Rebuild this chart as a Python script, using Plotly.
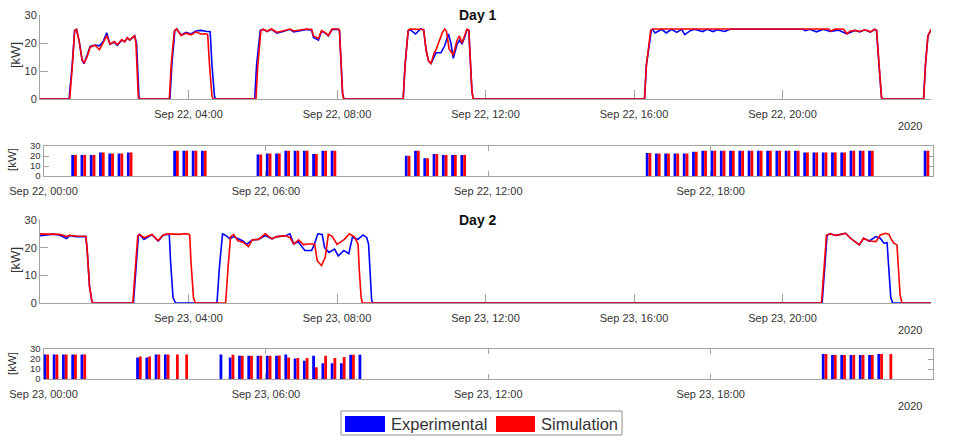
import pandas as pd
import plotly.graph_objects as go

DAY1 = "2020-09-22"
DAY2 = "2020-09-23"
DAY3 = "2020-09-24"

# ---- Day 1 power traces [kW] -------------------------------------------
d1_exp_t = ["00:00", "00:47", "00:52", "00:56", "00:59", "01:03", "01:08", "01:11", "01:16", "01:21", "01:29", "01:36", "01:42", "01:48", "01:53", "02:00", "02:05", "02:12", "02:17", "02:21", "02:25", "02:33", "02:36", "02:38", "02:40", "02:42",
            "03:30", "03:33", "03:38", "03:41", "03:48", "03:56", "04:04", "04:12", "04:20", "04:28", "04:35", "04:38", "04:42", "04:44",
            "05:47", "05:50", "05:56", "06:01", "06:07", "06:14", "06:23", "06:34", "06:44", "06:50", "07:01", "07:11", "07:19", "07:22", "07:30", "07:35", "07:41", "07:46", "07:52", "08:02", "08:04", "08:06", "08:09", "08:11",
            "09:47", "09:50", "09:55", "09:58", "10:07", "10:15", "10:20", "10:24", "10:28", "10:32", "10:37", "10:40", "10:48", "10:54", "11:00", "11:04", "11:08", "11:14", "11:18", "11:22", "11:27", "11:30", "11:33", "11:35", "11:38", "11:40",
            "16:17", "16:20", "16:28", "16:30", "16:34", "16:45", "16:52", "17:01", "17:09", "17:17", "17:22", "17:31", "17:38", "17:51", "17:58", "18:08", "18:14", "18:27", "18:35", "20:33", "20:37", "20:44", "20:55", "21:06", "21:17", "21:30", "21:44", "21:57", "22:05", "22:13", "22:22", "22:29", "22:32", "22:36", "22:40", "22:42",
            "23:48", "23:51", "23:55", "24:00"]
d1_exp_kw = [0, 0, 12, 24.5, 24.8, 21, 14, 12.6, 15.5, 18.8, 19.3, 19.0, 20.5, 23.6, 19.5, 20.3, 19.2, 21.0, 20.5, 21.8, 21.0, 22.6, 20.0, 8.0, 0.5, 0,
             0, 12, 24.5, 25.0, 22.9, 23.8, 23.2, 24.3, 24.5, 24.2, 24.0, 12.0, 1.0, 0,
             0, 12, 24.5, 24.9, 24.1, 24.9, 23.5, 24.2, 24.9, 24.0, 24.5, 24.8, 24.6, 22.0, 21.0, 24.2, 23.6, 22.5, 24.8, 24.9, 24.5, 14.0, 2.0, 0,
             0, 12, 24.3, 24.8, 23.2, 25.0, 24.7, 17.5, 13.5, 12.7, 15.5, 16.5, 16.5, 19.0, 23.2, 20.0, 14.5, 19.5, 21.0, 19.6, 22.5, 24.8, 24.5, 15.0, 3.0, 0,
             0, 12, 24.6, 24.9, 23.6, 24.9, 23.6, 24.9, 23.8, 24.9, 23.0, 24.4, 24.9, 24.1, 24.9, 24.1, 24.7, 24.1, 24.9, 24.9, 24.4, 24.9, 24.0, 24.9, 24.1, 24.6, 23.3, 24.5, 24.0, 24.7, 23.9, 24.9, 24.5, 12.0, 0.5, 0,
             0, 12, 22.5, 24.6]

d1_sim_t = ["00:00", "00:48", "00:52", "00:56", "00:59", "01:03", "01:08", "01:11", "01:16", "01:21", "01:29", "01:36", "01:42", "01:48", "01:53", "02:00", "02:05", "02:12", "02:17", "02:21", "02:25", "02:33", "02:35", "02:37", "02:39", "02:41",
            "03:29", "03:32", "03:37", "03:41", "03:48", "03:56", "04:04", "04:12", "04:20", "04:28", "04:31", "04:34", "04:38", "04:40",
            "05:49", "05:52", "05:57", "06:01", "06:07", "06:14", "06:23", "06:34", "06:44", "06:50", "07:01", "07:11", "07:19", "07:22", "07:30", "07:35", "07:41", "07:46", "07:52", "08:02", "08:04", "08:06", "08:09", "08:11",
            "09:47", "09:50", "09:55", "09:58", "10:07", "10:15", "10:20", "10:24", "10:28", "10:32", "10:37", "10:40", "10:45", "10:50", "10:54", "10:57", "11:01", "11:08", "11:14", "11:18", "11:22", "11:27", "11:30", "11:33", "11:35", "11:38", "11:40",
            "16:17", "16:20", "16:27", "16:30", "21:15", "21:18", "21:25", "21:39", "21:44", "21:50", "21:57", "22:05", "22:13", "22:22", "22:29", "22:32", "22:36", "22:40", "22:42",
            "23:48", "23:51", "23:55", "24:00"]
d1_sim_kw = [0, 0, 11, 24.4, 24.9, 21, 14, 12.8, 15, 18.5, 19.2, 17.6, 20, 22.7, 19.6, 20.5, 19.4, 21.2, 20.4, 21.9, 21.1, 22.6, 20, 8, 0.5, 0,
             0, 12, 24.3, 25, 22.7, 23.5, 22.9, 24.0, 23.2, 23.3, 23.0, 12, 1, 0,
             0, 12, 24.4, 24.9, 24.2, 25, 23.8, 24.4, 25, 24.3, 24.7, 25, 24.8, 22.5, 21.6, 24.4, 23.7, 22.7, 25, 25, 24.6, 14, 2, 0,
             0, 12, 24.5, 25, 25, 25, 24.8, 17.5, 13.5, 12.7, 16.5, 17.5, 20.5, 23.6, 25, 24.2, 18, 15.7, 21, 22.5, 20, 23.5, 24.9, 24.6, 15, 3, 0,
             0, 12, 24.6, 25, 25, 24.3, 25, 24.9, 23.3, 24.3, 24.5, 24.1, 24.7, 24.0, 24.9, 24.6, 12, 0.5, 0,
             0, 12, 22.5, 24.8]

# ---- Day 2 power traces [kW] -------------------------------------------
d2_exp_t = ["00:00", "00:10", "00:22", "00:32", "00:43", "00:48", "00:58", "01:14", "01:16", "01:20", "01:24", "01:26",
            "02:31", "02:35", "02:39", "02:41", "02:48", "03:01", "03:11", "03:19", "03:27", "03:29", "03:31", "03:35", "03:39",
            "04:46", "04:50", "04:55", "04:59", "05:07", "05:13", "05:28", "05:34", "05:43", "05:53", "06:04", "06:15", "06:23", "06:37", "06:44", "06:50", "06:57", "07:08", "07:19", "07:23", "07:29", "07:36", "07:40", "07:47", "07:56", "08:02", "08:11", "08:19", "08:25", "08:34", "08:42", "08:48", "08:51", "08:53", "08:56", "08:58",
            "21:04", "21:08", "21:12", "21:17", "21:26", "21:34", "21:42", "21:50", "22:04", "22:11", "22:20", "22:31", "22:38", "22:44", "22:49", "22:51", "22:55", "22:58", "24:00"]
d2_exp_kw = [24.3, 24.6, 24.9, 24.5, 23.3, 24.4, 24.0, 24.0, 20, 6, 0.5, 0,
             0, 12, 24.3, 24.8, 23.0, 24.7, 22.4, 24.5, 24.9, 24.5, 15, 2, 0,
             0, 13, 25, 24.6, 23.2, 24, 22.4, 21.2, 22.8, 23, 24.4, 23.2, 24, 24.3, 25, 21.3, 22.2, 19, 19, 21, 25, 24.8, 20, 18.3, 19.5, 17, 19, 17.8, 23.8, 23, 24.6, 23.7, 21.3, 12, 1, 0,
             0, 12, 24.5, 25, 24.4, 24.8, 25.2, 23.4, 21, 23.4, 22.4, 24, 23.4, 21.6, 21.8, 15, 2, 0, 0]

d2_sim_t = ["00:00", "00:10", "00:22", "00:32", "00:43", "00:48", "00:58", "01:14", "01:16", "01:20", "01:24", "01:26",
            "02:30", "02:34", "02:38", "02:41", "02:48", "03:01", "03:11", "03:19", "03:27", "03:46", "03:50", "03:59", "04:02", "04:04", "04:08", "04:11",
            "05:00", "05:04", "05:08", "05:13", "05:20", "05:28", "05:37", "05:43", "05:53", "06:04", "06:15", "06:23", "06:37", "06:44", "06:50", "06:58", "07:06", "07:12", "07:24", "07:28", "07:35", "07:41", "07:46", "07:52", "08:00", "08:12", "08:20", "08:28", "08:34", "08:36", "08:39", "08:41",
            "21:03", "21:07", "21:11", "21:17", "21:26", "21:34", "21:42", "21:50", "22:04", "22:11", "22:20", "22:31", "22:38", "22:47", "22:52", "22:56", "23:00", "23:05", "23:07", "23:10", "23:13", "24:00"]
d2_sim_kw = [25, 25, 25, 24.8, 24, 24.5, 24.2, 24.1, 20, 6, 0.5, 0,
             0, 12, 24.3, 24.8, 23.6, 24.8, 22.6, 24.6, 25, 24.8, 25, 25, 24.5, 15, 2, 0,
             0, 13, 24, 24.7, 22.5, 22, 20.4, 22.8, 23, 25, 23.2, 24, 24.3, 23.7, 21.3, 22.8, 21, 21.3, 21.3, 15.3, 13.5, 16.5, 24.8, 24.2, 21.2, 23, 25, 23.9, 21.3, 12, 2, 0,
             0, 12, 24.5, 25, 24.4, 24.8, 25.2, 23.4, 21, 23.4, 22.4, 22.2, 24.6, 25.2, 24.8, 23, 21.6, 21, 14, 3, 0, 0]

# ---- 15-minute averages [kW], interval start times ----------------------
d1_bar_t = ["00:45", "01:00", "01:15", "01:30", "01:45", "02:00", "02:15",
            "03:30", "03:45", "04:00", "04:15",
            "05:45", "06:00", "06:15", "06:30", "06:45", "07:00", "07:15", "07:30", "07:45",
            "09:45", "10:00", "10:15", "10:30", "10:45", "11:00", "11:15",
            "16:15", "16:30", "16:45", "17:00", "17:15", "17:30", "17:45", "18:00", "18:15", "18:30", "18:45", "19:00", "19:15",
            "19:30", "19:45", "20:00", "20:15", "20:30", "20:45", "21:00", "21:15", "21:30", "21:45", "22:00", "22:15",
            "23:45"]
d1_bar_exp = [20.9, 20.9, 20.9, 23.6, 22.6, 22.6, 23.6,
              25.2, 25.2, 25.2, 25.2,
              21.5, 22.6, 22.6, 25.2, 25.2, 25.2, 21.9, 25.2, 25.2,
              20.2, 25.2, 17.8, 21.9, 20.9, 20.9, 20.9,
              23.0, 22.6, 22.6, 22.6, 22.6, 24.2, 25.2, 25.2, 25.2, 25.2, 25.2, 25.2, 25.2,
              25.2, 25.2, 25.2, 25.2, 23.6, 23.6, 23.6, 23.6, 23.6, 25.2, 25.2, 25.2,
              25.2]
d1_bar_sim = [20.9, 20.9, 20.9, 23.6, 22.6, 22.6, 23.6,
              25.2, 25.2, 25.2, 25.2,
              21.5, 22.6, 22.6, 25.2, 25.2, 25.2, 21.9, 25.2, 25.2,
              20.2, 25.2, 17.8, 21.9, 20.9, 20.9, 20.9,
              23.0, 22.6, 22.6, 22.6, 22.6, 24.2, 25.2, 25.2, 25.2, 25.2, 25.2, 25.2, 25.2,
              25.2, 25.2, 25.2, 25.2, 23.6, 23.6, 23.6, 23.6, 23.6, 25.2, 25.2, 25.2,
              25.2]

d2_bar_t = ["00:00", "00:15", "00:30", "00:45", "01:00",
            "02:30", "02:45", "03:00", "03:15", "03:30", "03:45",
            "04:45", "05:00", "05:15", "05:30", "05:45", "06:00", "06:15", "06:30", "06:45", "07:00", "07:15", "07:30", "07:45", "08:00", "08:15", "08:30",
            "21:00", "21:15", "21:30", "21:45", "22:00", "22:15", "22:30", "22:45"]
d2_bar_exp = [24.5, 24.5, 24.5, 24.5, 24.5,
              21.5, 21.5, 24.5, 24.5, 0, 0,
              24.5, 21.5, 23.2, 23.2, 23.2, 23.2, 23.2, 24.6, 20.5, 18.2, 23.2, 15.8, 15.8, 15.8, 24.2, 24.2,
              24.9, 23.9, 23.9, 23.9, 23.9, 23.9, 24.9, 0]
d2_bar_sim = [24.5, 24.5, 24.5, 24.5, 24.5,
              22.6, 22.6, 24.5, 24.5, 24.5, 24.5,
              0, 24.2, 23.2, 23.2, 23.2, 23.2, 23.6, 21.5, 20.9, 20.9, 11.8, 23.2, 20.9, 21.9, 24.2, 0,
              24.9, 23.9, 23.9, 23.9, 23.9, 23.9, 24.9, 24.9]

line_ticks = ["04:00", "08:00", "12:00", "16:00", "20:00", "24:00"]
line_labels_d1 = ["Sep 22, 04:00", "Sep 22, 08:00", "Sep 22, 12:00", "Sep 22, 16:00", "Sep 22, 20:00", "Sep 23, 00:00"]
line_labels_d2 = ["Sep 23, 04:00", "Sep 23, 08:00", "Sep 23, 12:00", "Sep 23, 16:00", "Sep 23, 20:00", "Sep 24, 00:00"]
bar_ticks = ["00:00", "06:00", "12:00", "18:00"]
bar_labels_d1 = ["Sep 22, 00:00", "Sep 22, 06:00", "Sep 22, 12:00", "Sep 22, 18:00"]
bar_labels_d2 = ["Sep 23, 00:00", "Sep 23, 06:00", "Sep 23, 12:00", "Sep 23, 18:00"]
kw_ticks = [0, 10, 20, 30]

BLUE = "#0000ff"
RED = "#ff0000"
AXC = "#a3a3a3"
TXT = "#333333"
FONT = "Liberation Sans, Arial, sans-serif"
W, H = 965, 440
BAR_MS = 4.5 * 60 * 1000   # width of one bar (4.5 min)


def stamps(day, times):
    out = []
    for s in times:
        h, m = (int(v) for v in s.split(":"))
        out.append(pd.Timestamp(day) + pd.Timedelta(hours=h, minutes=m))
    return out


def px_x(px):
    return px / W


def px_y(py):
    return 1 - py / H


fig = go.Figure()


def add_lines(day, xa, ya, t_e, kw_e, t_s, kw_s):
    for t, kw, name, color in ((t_e, kw_e, "Experimental", BLUE), (t_s, kw_s, "Simulation", RED)):
        fig.add_trace(go.Scatter(x=stamps(day, t), y=kw, mode="lines", name=name,
                                 line=dict(color=color, width=1.6),
                                 xaxis=xa, yaxis=ya, showlegend=False))


def add_bars(day, xa, ya, t, kw_e, kw_s):
    x = stamps(day, t)
    fig.add_trace(go.Bar(x=x, y=kw_e, name="Experimental", marker=dict(color=BLUE, line=dict(width=0)),
                         width=BAR_MS, offset=0, xaxis=xa, yaxis=ya, showlegend=False))
    fig.add_trace(go.Bar(x=x, y=kw_s, name="Simulation", marker=dict(color=RED, line=dict(width=0)),
                         width=BAR_MS, offset=BAR_MS, xaxis=xa, yaxis=ya, showlegend=False))


add_lines(DAY1, "x", "y", d1_exp_t, d1_exp_kw, d1_sim_t, d1_sim_kw)
add_bars(DAY1, "x2", "y2", d1_bar_t, d1_bar_exp, d1_bar_sim)
add_lines(DAY2, "x3", "y3", d2_exp_t, d2_exp_kw, d2_sim_t, d2_sim_kw)
add_bars(DAY2, "x4", "y4", d2_bar_t, d2_bar_exp, d2_bar_sim)

tickfont = dict(family=FONT, size=11, color=TXT)
small_tickfont = dict(family=FONT, size=9.5, color=TXT)


def line_xaxis(day, nxt, anchor, labels):
    return dict(domain=[px_x(40), px_x(931)], anchor=anchor, type="date",
                range=[pd.Timestamp(day), pd.Timestamp(nxt)],
                tickmode="array", tickvals=stamps(day, line_ticks), ticktext=labels,
                ticks="inside", ticklen=9, tickcolor=AXC, showline=True, linecolor=AXC, linewidth=1,
                showgrid=False, zeroline=False, layer="below traces", tickfont=tickfont,
                ticklabelstandoff=5, automargin=False, fixedrange=True)


def line_yaxis(top, bot, anchor):
    return dict(domain=[px_y(bot), px_y(top)], anchor=anchor, range=[0, 30],
                tickmode="array", tickvals=kw_ticks, ticks="inside", ticklen=8, tickcolor=AXC,
                showline=True, linecolor=AXC, linewidth=1, showgrid=False, zeroline=False,
                layer="below traces", tickfont=tickfont, automargin=False, fixedrange=True)


def bar_xaxis(day, nxt, anchor, labels):
    return dict(domain=[px_x(43.5), px_x(933)], anchor=anchor, type="date",
                range=[pd.Timestamp(day), pd.Timestamp(nxt)],
                tickmode="array", tickvals=stamps(day, bar_ticks), ticktext=labels,
                ticks="inside", ticklen=5, tickcolor=AXC, showline=True, mirror="ticks",
                linecolor=AXC, linewidth=1, showgrid=False, zeroline=False, layer="below traces",
                tickfont=tickfont, ticklabelstandoff=5, automargin=False, fixedrange=True)


def bar_yaxis(top, bot, anchor):
    return dict(domain=[px_y(bot), px_y(top)], anchor=anchor, range=[0, 30],
                tickmode="array", tickvals=kw_ticks, ticks="inside", ticklen=5, tickcolor=AXC,
                showline=True, mirror="ticks", linecolor=AXC, linewidth=1, showgrid=False,
                zeroline=False, layer="below traces", tickfont=small_tickfont,
                automargin=False, fixedrange=True)


fig.update_layout(
    width=W, height=H, margin=dict(l=0, r=0, t=0, b=0, pad=0, autoexpand=False),
    paper_bgcolor="white", plot_bgcolor="white", barmode="overlay",
    font=dict(family=FONT, color=TXT), showlegend=False,
    xaxis=line_xaxis(DAY1, DAY2, "y", line_labels_d1),
    yaxis=line_yaxis(15, 99, "x"),
    xaxis2=bar_xaxis(DAY1, DAY2, "y2", bar_labels_d1),
    yaxis2=bar_yaxis(146, 176, "x2"),
    xaxis3=line_xaxis(DAY2, DAY3, "y3", line_labels_d2),
    yaxis3=line_yaxis(220, 303, "x3"),
    xaxis4=bar_xaxis(DAY2, DAY3, "y4", bar_labels_d2),
    yaxis4=bar_yaxis(349, 379, "x4"),
)

ann = []


def text(px, py, s, size=11, bold=False, angle=0, xanchor="center"):
    ann.append(dict(x=px_x(px), y=px_y(py), xref="paper", yref="paper", text=f"<b>{s}</b>" if bold else s,
                    showarrow=False, textangle=angle, xanchor=xanchor, yanchor="middle",
                    font=dict(family=FONT, size=size, color="#111111" if bold else TXT)))


text(478, 14.5, "Day 1", size=14, bold=True)
text(478, 220, "Day 2", size=14, bold=True)
text(15, 55, "[kW]", size=13, angle=-90)
text(15, 260, "[kW]", size=13, angle=-90)
text(12, 160, "[kW]", size=11.5, angle=-90)
text(12, 364, "[kW]", size=11.5, angle=-90)
text(910, 126, "2020")
text(910, 330, "2020")
text(910, 406, "2020")

# legend
shapes = [
    dict(type="rect", xref="paper", yref="paper", x0=px_x(341), x1=px_x(622), y0=px_y(435), y1=px_y(411),
         line=dict(color="#8f8f8f", width=1), fillcolor="white"),
    dict(type="rect", xref="paper", yref="paper", x0=px_x(345), x1=px_x(385), y0=px_y(432), y1=px_y(416),
         line=dict(width=0), fillcolor=BLUE),
    dict(type="rect", xref="paper", yref="paper", x0=px_x(496), x1=px_x(535), y0=px_y(432), y1=px_y(416),
         line=dict(width=0), fillcolor=RED),
]
text(389, 424, "Experimental", size=16.5, xanchor="left")
text(539, 424, "Simulation", size=16.5, xanchor="left")

fig.update_layout(annotations=ann, shapes=shapes)
fig.write_html("out.html")
